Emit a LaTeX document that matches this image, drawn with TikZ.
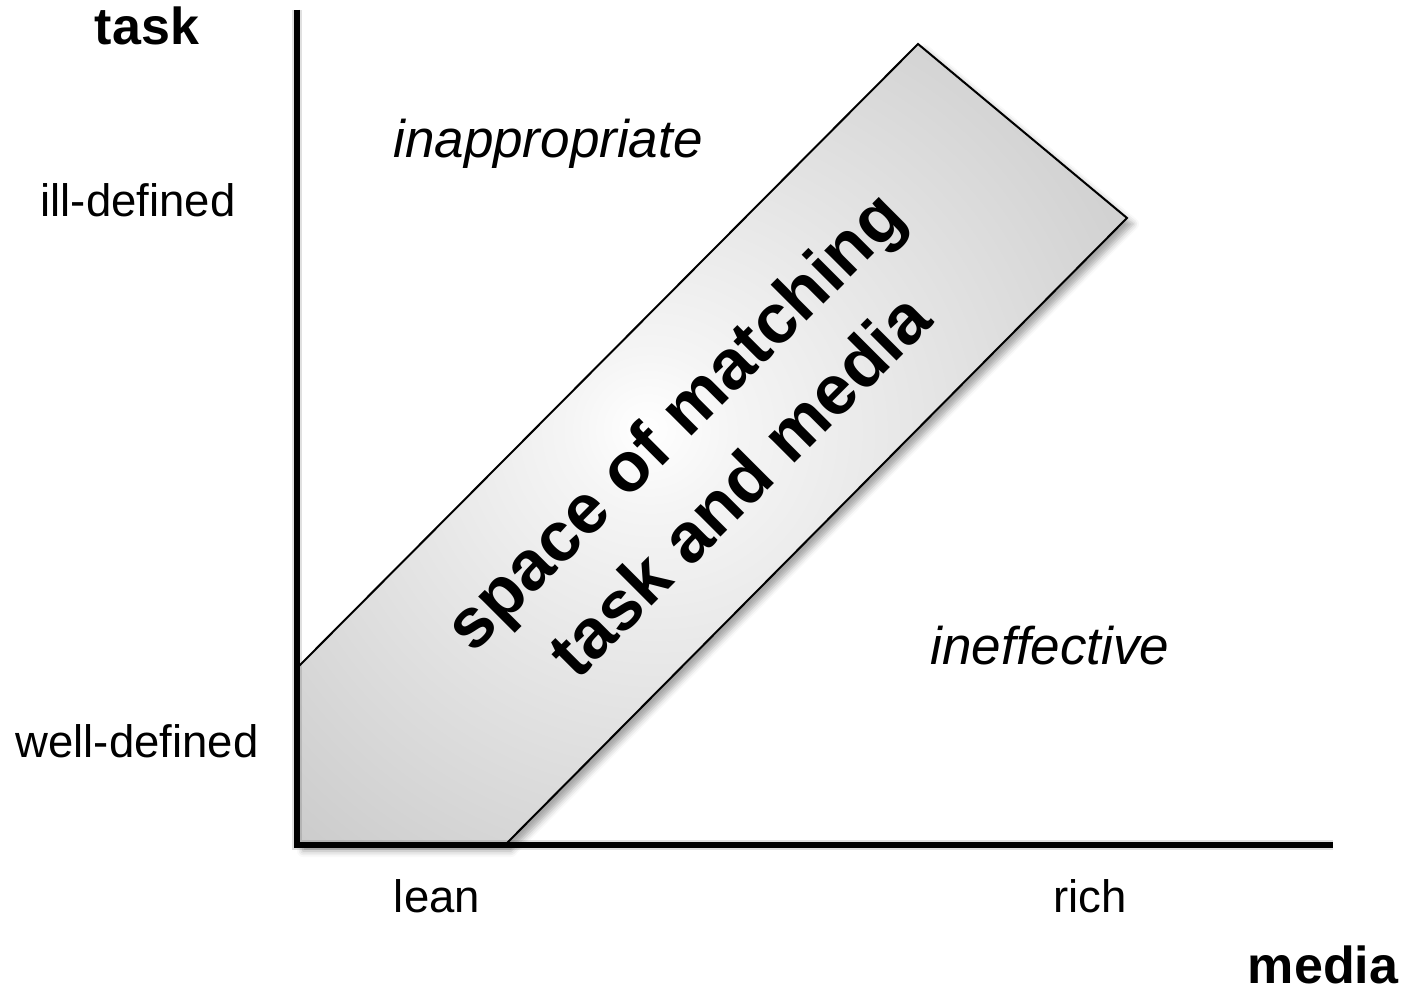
\documentclass[tikz,border=0pt]{standalone}
\usepackage{fontspec}
\setmainfont{Liberation Sans}
\usetikzlibrary{
  shadows,
  shadows.blur
}

\pgfdeclareradialshading{bandglow}{\pgfpoint{-4bp}{1bp}}{%
  color(0bp)=(white);
  color(5bp)=(white!96!black);
  color(25bp)=(black!15);
  color(50bp)=(black!29);
  color(70bp)=(black!35)}

\begin{document}
\begin{tikzpicture}[x=0.5pt,y=-0.5pt,
  axis/.style={line width=3pt, line join=miter},
  axisshade/.style={line width=5pt, black, opacity=0.12},
  band/.style={draw, line width=1pt, line join=miter, shading=bandglow,
    blur shadow={shadow xshift=3pt, shadow yshift=-3pt, shadow blur radius=3pt, shadow opacity=35}},
  tick/.style={anchor=base, inner sep=0pt, font=\fontsize{22.75}{27}\selectfont},
  title/.style={anchor=base, inner sep=0pt, font=\fontsize{26}{31}\bfseries\selectfont},
  region/.style={anchor=base, inner sep=0pt, font=\fontsize{26.5}{31}\itshape\selectfont},
  bandtext/.style={align=center, rotate=45, inner sep=0pt, font=\fontsize{35}{46}\bfseries\selectfont}]
\useasboundingbox (0,0) rectangle (1403,989);

% axes
\coordinate (ytop) at (297,10);
\coordinate (origin) at (297,845);
\coordinate (xend) at (1333,845);

% band corners
\coordinate (bl) at (297,668);
\coordinate (bt) at (918,44);
\coordinate (br) at (1127,218);
\coordinate (bb) at (505,845);

\path[band] (origin) -- (bl) -- (bt) -- (br) -- (bb) -- cycle;

\draw[axisshade, xshift=2pt, yshift=-3pt] (ytop) -- (origin) -- (xend);
\draw[axisshade, line width=3pt, xshift=1pt, yshift=-2pt] (ytop) -- (origin) -- (xend);
\draw[axis] (ytop) -- (origin) -- (xend);

\node[title] (task) at (147,45) {task};
\node[title] (media) at (1323,983) {media};
\node[tick] (ill) at (138,217) {ill-defined};
\node[tick] (well) at (137,757) {well-defined};
\node[tick] (lean) at (437,912) {lean};
\node[tick] (rich) at (1090,912) {rich};
\node[region] (inappr) at (548,158) {inappropriate};
\node[region] (ineff) at (1050,664) {ineffective};
\node[bandtext] (space) at (706,452) {space of matching\\task and media};
\end{tikzpicture}
\end{document}
